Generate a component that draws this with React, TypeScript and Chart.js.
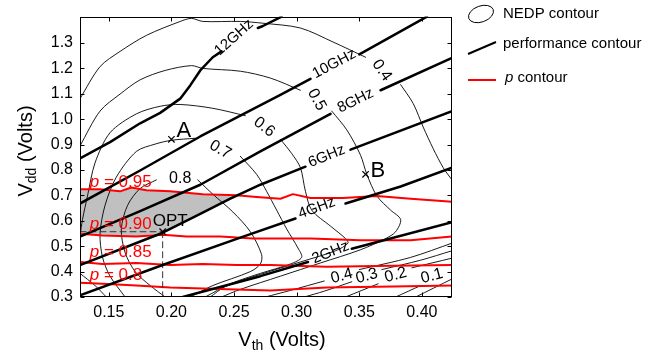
import React, { useEffect, useRef } from 'react';
import { Chart, registerables } from 'chart.js';
Chart.register(...registerables);

type Pt = [number, number];
type Curve = Pt[][];

const FONT = "'Liberation Sans', Arial, Helvetica, sans-serif";

const VTH_TICKS = [0.15, 0.2, 0.25, 0.3, 0.35, 0.4];
const VDD_TICKS = [0.3, 0.4, 0.5, 0.6, 0.7, 0.8, 0.9, 1.0, 1.1, 1.2, 1.3];
const VTH_MIN = 0.127, VTH_MAX = 0.424;
const VDD_MIN = 0.3, VDD_MAX = 1.404;

// performance contours (GHz)
const F12: Curve = [
  [[0.127,0.846],[0.151,0.910],[0.175,0.984],[0.191,1.025],[0.207,1.081],[0.215,1.133],[0.223,1.192],[0.233,1.244],[0.240,1.267]],
  [[0.269,1.359],[0.273,1.367],[0.288,1.404]],
];
const F10: Curve = [
  [[0.127,0.668],[0.175,0.798],[0.223,0.932],[0.287,1.096],[0.311,1.159]],
  [[0.350,1.255],[0.404,1.404]],
];
const F8: Curve = [
  [[0.127,0.538],[0.175,0.638],[0.223,0.742],[0.271,0.873],[0.327,1.021]],
  [[0.367,1.114],[0.424,1.241]],
];
const F6: Curve = [
  [[0.127,0.426],[0.193,0.553],[0.223,0.627],[0.247,0.687],[0.271,0.742],[0.307,0.813]],
  [[0.343,0.880],[0.424,1.032]],
];
const F4: Curve = [
  [[0.127,0.307],[0.193,0.426],[0.255,0.534],[0.299,0.609]],
  [[0.339,0.668],[0.383,0.735],[0.424,0.809]],
];
const F2: Curve = [
  [[0.209,0.300],[0.271,0.382],[0.309,0.438]],
  [[0.344,0.490],[0.424,0.594]],
];
const PERF_LABELS: [string, number, number, number][] = [
  ['12GHz', 0.250, 1.322, -42],
  ['10GHz', 0.330, 1.218, -28],
  ['8GHz', 0.347, 1.073, -26],
  ['6GHz', 0.324, 0.854, -22],
  ['4GHz', 0.316, 0.650, -20],
  ['2GHz', 0.327, 0.475, -22],
];

// p contours
const P95: Pt[] = [[0.127,0.724],[0.143,0.724],[0.159,0.716],[0.168,0.731],[0.180,0.720],[0.199,0.716],[0.225,0.705],[0.252,0.701],[0.268,0.694],[0.287,0.687],[0.297,0.705],[0.311,0.690],[0.337,0.690],[0.364,0.698],[0.391,0.687],[0.424,0.675]];
const P90: Pt[] = [[0.127,0.549],[0.145,0.542],[0.172,0.538],[0.193,0.545],[0.212,0.538],[0.239,0.538],[0.265,0.530],[0.311,0.530],[0.351,0.523],[0.391,0.523],[0.424,0.538]];
const P85: Pt[] = [[0.127,0.438],[0.145,0.430],[0.172,0.434],[0.199,0.426],[0.225,0.430],[0.252,0.426],[0.279,0.426],[0.324,0.419],[0.377,0.423],[0.424,0.426]];
const P80: Pt[] = [[0.127,0.356],[0.145,0.352],[0.172,0.345],[0.199,0.337],[0.225,0.333],[0.252,0.330],[0.279,0.326],[0.324,0.337],[0.377,0.341],[0.424,0.345]];
const P_LABELS: [string, number, number][] = [
  [' = 0.95', 0.1348, 0.752],
  [' = 0.90', 0.1348, 0.585],
  [' = 0.85', 0.1348, 0.477],
  [' = 0.8', 0.1348, 0.384],
];

const GRAY_REGION: Pt[] = [[0.127,0.724],[0.143,0.724],[0.159,0.716],[0.168,0.731],[0.180,0.720],[0.199,0.716],[0.225,0.705],[0.252,0.701],[0.247,0.687],[0.223,0.627],[0.193,0.553],[0.172,0.538],[0.145,0.542],[0.127,0.549]];

// NEDP contours
const N04: Curve = [
  [[0.127,1.081],[0.143,1.207],[0.159,1.267],[0.180,1.330],[0.207,1.385],[0.216,1.397],[0.225,1.385],[0.255,1.385],[0.273,1.378],[0.303,1.359],[0.329,1.304],[0.355,1.244]],
  [[0.383,1.136],[0.393,1.062],[0.401,0.969],[0.409,0.884],[0.417,0.809],[0.424,0.761]],
  [[0.424,0.512],[0.391,0.456],[0.350,0.408]],
  [[0.322,0.363],[0.295,0.326],[0.275,0.300]],
];
const N05: Curve = [
  [[0.127,0.895],[0.143,1.032],[0.159,1.099],[0.175,1.155],[0.195,1.192],[0.216,1.211],[0.225,1.200],[0.255,1.189],[0.279,1.162],[0.303,1.114]],
  [[0.328,1.032],[0.340,0.958],[0.351,0.858],[0.356,0.783],[0.364,0.698],[0.375,0.642],[0.383,0.605],[0.379,0.557],[0.371,0.530],[0.351,0.486],[0.319,0.434],[0.287,0.382],[0.255,0.330],[0.240,0.300]],
];
const N06: Curve = [
  [[0.127,0.542],[0.129,0.605],[0.133,0.698],[0.139,0.828],[0.151,0.947],[0.172,1.021],[0.191,1.051],[0.207,1.058],[0.233,1.043],[0.259,1.014]],
  [[0.287,0.921],[0.296,0.865],[0.303,0.809],[0.307,0.716],[0.312,0.642],[0.327,0.579],[0.339,0.530],[0.341,0.512],[0.331,0.482],[0.303,0.438],[0.271,0.389],[0.243,0.341],[0.231,0.300]],
  [[0.127,0.393],[0.139,0.345],[0.148,0.300]],
];
const N07: Curve = [
  [[0.163,0.300],[0.151,0.382],[0.145,0.456],[0.143,0.549],[0.147,0.661],[0.156,0.772],[0.172,0.873],[0.187,0.902],[0.200,0.917],[0.219,0.925]],
  [[0.255,0.854],[0.268,0.783],[0.276,0.716],[0.284,0.642],[0.292,0.568],[0.301,0.493],[0.304,0.456],[0.295,0.430],[0.271,0.393],[0.247,0.352],[0.227,0.300]],
];
const N08: Curve = [
  [[0.195,0.300],[0.183,0.345],[0.171,0.400],[0.163,0.475],[0.160,0.568],[0.165,0.661],[0.175,0.727],[0.188,0.761]],
  [[0.221,0.761],[0.233,0.705],[0.249,0.635],[0.263,0.557],[0.272,0.467],[0.271,0.430],[0.263,0.400],[0.233,0.345],[0.215,0.300]],
];
const N03: Curve = [
  [[0.424,0.482],[0.399,0.445],[0.368,0.408]],
  [[0.344,0.360],[0.322,0.323],[0.306,0.300]],
];
const N02: Curve = [
  [[0.424,0.453],[0.392,0.415]],
  [[0.365,0.352],[0.339,0.300]],
];
const N01: Curve = [[[0.399,0.345],[0.379,0.300]]];
const N005: Curve = [[[0.424,0.371],[0.395,0.300]]];
const NEDP_LABELS: [string, number, number, number][] = [
  ['0.8', 0.207, 0.765, 0],
  ['0.7', 0.239, 0.880, 30],
  ['0.6', 0.274, 0.969, 38],
  ['0.5', 0.316, 1.077, 62],
  ['0.4', 0.368, 1.192, 55],
  ['0.4', 0.336, 0.382, -15],
  ['0.3', 0.356, 0.382, -15],
  ['0.2', 0.379, 0.386, -15],
  ['0.1', 0.408, 0.382, -15],
];

// design points
const POINT_NAMES = ['A', 'B', 'OPT'];
const POINT_VTH = [0.200, 0.355, 0.193];
const POINT_VDD = [0.921, 0.783, 0.557];

const toXY = (seg: Pt[]) => seg.map(([x, y]) => ({ x, y }));

function buildDatasets() {
  const ds: any[] = [];
  ds.push({
    data: POINT_VTH.map((x, i) => ({ x, y: POINT_VDD[i] })),
    showLine: false, pointStyle: 'crossRot', pointRadius: 4.5, borderColor: '#000', borderWidth: 1.2,
  });
  const add = (c: Curve, color: string, w: number, tension: number, dash?: number[]) =>
    c.forEach(seg => ds.push({
      data: toXY(seg), showLine: true, borderColor: color, borderWidth: w, pointRadius: 0,
      tension, fill: false, borderDash: dash || [], borderCapStyle: 'round', borderJoinStyle: 'round',
    }));
  [F12, F10, F8, F6, F4, F2].forEach(c => add(c, '#000', 2.5, 0));
  const opt: Pt = [POINT_VTH[2], POINT_VDD[2]];
  add([[[opt[0], opt[1]], [opt[0], VDD_MIN]]], '#333', 1, 0, [6, 4]);
  add([[[VTH_MIN, opt[1]], [opt[0], opt[1]]]], '#333', 1, 0, [6, 4]);
  [P95, P90, P85, P80].forEach(p => add([p], '#ff0000', 2, 0));
  [N04, N05, N06, N07, N08, N03, N02, N01, N005].forEach(c => add(c, '#000', 0.9, 0.3));
  return ds;
}

const overlay = {
  id: 'overlay',
  beforeDatasetsDraw(chart: any) {
    const { ctx, chartArea: a, scales: { x, y } } = chart;
    ctx.save();
    ctx.beginPath();
    ctx.rect(a.left, a.top, a.right - a.left, a.bottom - a.top);
    ctx.clip();
    ctx.beginPath();
    GRAY_REGION.forEach(([vx, vy], i) => {
      const px = x.getPixelForValue(vx), py = y.getPixelForValue(vy);
      if (i) ctx.lineTo(px, py); else ctx.moveTo(px, py);
    });
    ctx.closePath();
    ctx.fillStyle = '#c0c0c0';
    ctx.fill();
    ctx.restore();
  },
  afterDatasetsDraw(chart: any) {
    const { ctx, chartArea: a, scales: { x, y } } = chart;
    ctx.save();
    // frame
    ctx.strokeStyle = '#000';
    ctx.lineWidth = 1;
    const L = Math.round(a.left) + 0.5, T = Math.round(a.top) + 0.5, R = Math.round(a.right) - 0.5, B = Math.round(a.bottom) - 0.5;
    ctx.strokeRect(L, T, R - L, B - T);
    ctx.beginPath();
    VTH_TICKS.forEach(v => {
      const px = Math.round(x.getPixelForValue(v)) + 0.5;
      ctx.moveTo(px, B); ctx.lineTo(px, B - 4);
      ctx.moveTo(px, T); ctx.lineTo(px, T + 4);
    });
    VDD_TICKS.forEach(v => {
      const py = Math.round(y.getPixelForValue(v)) + 0.5;
      ctx.moveTo(L, py); ctx.lineTo(L + 4, py);
      ctx.moveTo(R, py); ctx.lineTo(R - 4, py);
    });
    ctx.stroke();

    // contour labels
    const drawRot = (t: string, vx: number, vy: number, deg: number, size: number) => {
      ctx.save();
      ctx.translate(x.getPixelForValue(vx), y.getPixelForValue(vy));
      ctx.rotate(deg * Math.PI / 180);
      ctx.font = `${size}px ${FONT}`;
      ctx.fillStyle = '#000';
      ctx.textAlign = 'center';
      ctx.textBaseline = 'middle';
      ctx.fillText(t, 0, 0);
      ctx.restore();
    };
    PERF_LABELS.forEach(([t, vx, vy, d]) => drawRot(t, vx, vy, d, 15));
    NEDP_LABELS.forEach(([t, vx, vy, d]) => drawRot(t, vx, vy, d, 16));

    // p labels
    ctx.fillStyle = '#ff0000';
    ctx.textBaseline = 'middle';
    ctx.textAlign = 'left';
    P_LABELS.forEach(([t, vx, vy]) => {
      const px = x.getPixelForValue(vx), py = y.getPixelForValue(vy);
      ctx.font = `italic 17px ${FONT}`;
      ctx.fillText('p', px, py);
      const w = ctx.measureText('p').width;
      ctx.font = `17px ${FONT}`;
      ctx.fillText(t, px + w, py);
    });

    // point labels
    ctx.fillStyle = '#000';
    ctx.textBaseline = 'alphabetic';
    const offs: [number, number, number][] = [[5, -2, 22], [5, 3, 22], [-10, -6, 17]];
    POINT_NAMES.forEach((n, i) => {
      const px = x.getPixelForValue(POINT_VTH[i]), py = y.getPixelForValue(POINT_VDD[i]);
      ctx.font = `${offs[i][2]}px ${FONT}`;
      ctx.fillText(n, px + offs[i][0], py + offs[i][1]);
    });

    // axis titles
    const title = (main: string, sub: string, rest: string) => {
      ctx.font = `20px ${FONT}`;
      const w1 = ctx.measureText(main).width;
      const w3 = ctx.measureText(rest).width;
      ctx.font = `14px ${FONT}`;
      const w2 = ctx.measureText(sub).width;
      const tw = w1 + w2 + w3;
      let cx = -tw / 2;
      ctx.font = `20px ${FONT}`;
      ctx.fillText(main, cx, 0); cx += w1;
      ctx.font = `14px ${FONT}`;
      ctx.fillText(sub, cx, 4); cx += w2;
      ctx.font = `20px ${FONT}`;
      ctx.fillText(rest, cx, 0);
    };
    ctx.textAlign = 'left';
    ctx.save();
    ctx.translate(282, 346);
    title('V', 'th', ' (Volts)');
    ctx.restore();
    ctx.save();
    ctx.translate(32, 151);
    ctx.rotate(-Math.PI / 2);
    title('V', 'dd', ' (Volts)');
    ctx.restore();

    // legend
    ctx.strokeStyle = '#000';
    ctx.lineWidth = 1;
    ctx.beginPath();
    ctx.ellipse(481, 14, 13, 8, -0.35, 0, Math.PI * 2);
    ctx.stroke();
    ctx.lineWidth = 2;
    ctx.beginPath();
    ctx.moveTo(468, 54); ctx.lineTo(496, 42);
    ctx.stroke();
    ctx.strokeStyle = '#ff0000';
    ctx.beginPath();
    ctx.moveTo(468, 80); ctx.lineTo(496, 80);
    ctx.stroke();
    ctx.fillStyle = '#000';
    ctx.textBaseline = 'middle';
    ctx.font = `15px ${FONT}`;
    ctx.fillText('NEDP contour', 503, 14);
    ctx.fillText('performance contour', 503, 44);
    ctx.font = `italic 15px ${FONT}`;
    ctx.fillText('p', 505, 78);
    const pw = ctx.measureText('p').width;
    ctx.font = `15px ${FONT}`;
    ctx.fillText(' contour', 505 + pw, 78);
    ctx.restore();
  },
};

export default function App() {
  const ref = useRef<HTMLCanvasElement>(null);
  useEffect(() => {
    if (!ref.current) return;
    const chart = new Chart(ref.current, {
      type: 'scatter',
      data: { datasets: buildDatasets() },
      options: {
        responsive: false,
        animation: false,
        devicePixelRatio: 1,
        layout: { padding: { left: 0, top: 1, right: 213, bottom: 0 } },
        plugins: { legend: { display: false }, tooltip: { enabled: false } },
        scales: {
          x: {
            type: 'linear', min: VTH_MIN, max: VTH_MAX,
            afterFit: (s: any) => { s.height = 61; },
            afterBuildTicks: (s: any) => { s.ticks = VTH_TICKS.map(v => ({ value: v })); },
            grid: { display: false, drawTicks: false },
            border: { display: false },
            ticks: { callback: (v: any) => Number(v).toFixed(2), font: { family: FONT, size: 16 }, color: '#000', padding: 6, maxRotation: 0, autoSkip: false },
          },
          y: {
            type: 'linear', min: VDD_MIN, max: VDD_MAX,
            afterFit: (s: any) => { s.width = 80; },
            afterBuildTicks: (s: any) => { s.ticks = VDD_TICKS.map(v => ({ value: v })); },
            grid: { display: false, drawTicks: false },
            border: { display: false },
            ticks: { callback: (v: any) => Number(v).toFixed(1), font: { family: FONT, size: 16 }, color: '#000', padding: 7, autoSkip: false },
          },
        },
      },
      plugins: [overlay],
    } as any);
    return () => chart.destroy();
  }, []);
  return (
    <div style={{ position: 'absolute', left: 0, top: 0, width: 665, height: 358 }}>
      <canvas ref={ref} width={665} height={358} style={{ display: 'block' }} />
    </div>
  );
}
